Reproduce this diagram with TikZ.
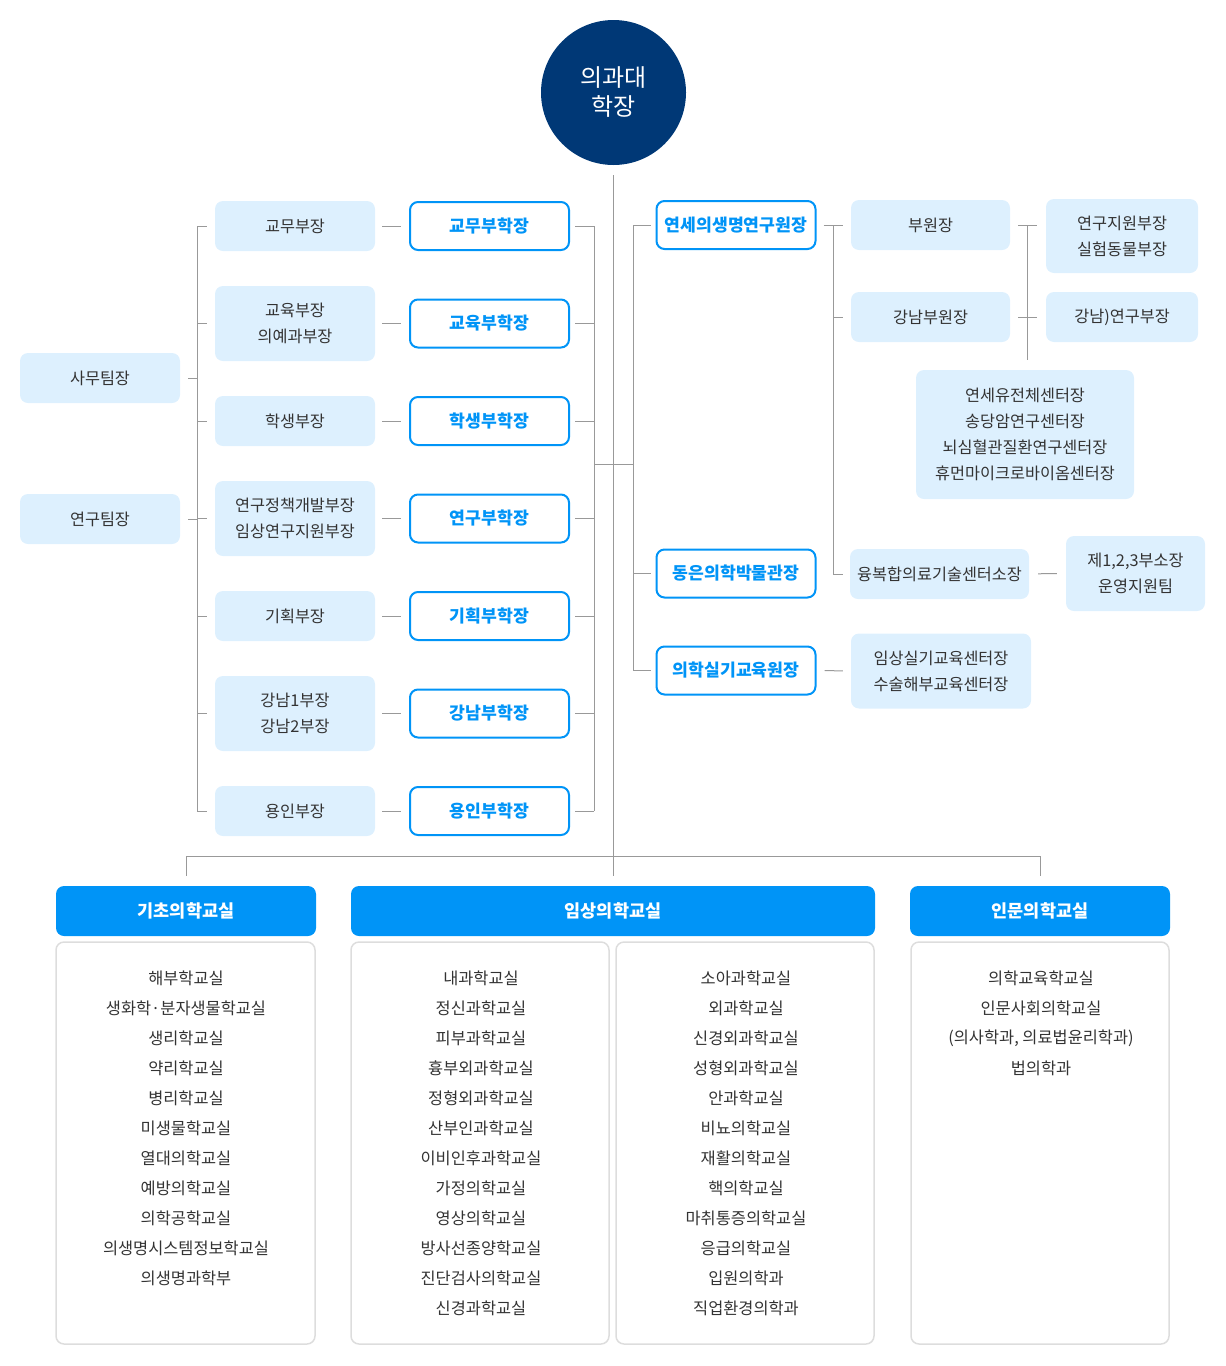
\documentclass[tikz,border=0pt]{standalone}
\usepackage{fontspec}
\setmainfont{Noto Sans CJK KR}
\definecolor{navy}{RGB}{0,56,118}
\definecolor{mainblue}{RGB}{0,148,247}
\definecolor{paleblue}{RGB}{221,240,254}
\definecolor{linegray}{RGB}{153,153,153}
\definecolor{boxgray}{RGB}{221,221,221}
\definecolor{txtgray}{RGB}{51,51,51}
\tikzset{
  conn/.style={draw=linegray,line width=1pt},
  pale/.style={fill=paleblue,rounded corners=8pt,minimum width=160pt,minimum height=50pt,inner sep=0pt,align=center,text=txtgray,font=\fontsize{16.3}{26}\selectfont},
  outl/.style={draw=mainblue,line width=2pt,fill=white,rounded corners=8pt,minimum width=159pt,minimum height=48pt,inner sep=0pt,text=mainblue,font=\fontsize{17.2}{20}\selectfont\bfseries},
  head/.style={fill=mainblue,rounded corners=8pt,minimum width=260pt,minimum height=50pt,inner sep=0pt,text=white,font=\fontsize{17.5}{20}\selectfont\bfseries},
  listbox/.style={draw=boxgray,line width=1.5pt,rounded corners=8pt},
  item/.style={text=txtgray,inner sep=0pt,font=\fontsize{16.4}{20}\selectfont}
}

\begin{document}
\begin{tikzpicture}[x=1pt,y=-1pt]
\useasboundingbox (0,0) rectangle (1226,1366);
\node[circle,fill=navy,minimum size=145pt,inner sep=0pt,align=center,text=white,font=\fontsize{24}{29}\selectfont] (dean) at (613.5,92.5) {의과대\\학장};

\coordinate (lb) at (197,0);
\coordinate (rb) at (594,0);
\coordinate (rc) at (633,0);
\coordinate (rd) at (833,0);
\coordinate (re) at (1027,0);
\coordinate (mid) at (0,464);

\foreach \i/\y/\h/\a/\b in {1/226/50/교무부장/교무부학장, 2/323.5/75/교육부장\\의예과부장/교육부학장, 3/421/50/학생부장/학생부학장, 4/518.5/75/연구정책개발부장\\임상연구지원부장/연구부학장, 5/616/50/기획부장/기획부학장, 6/713.5/75/강남1부장\\강남2부장/강남부학장, 7/811/50/용인부장/용인부학장}{
  \node[pale,minimum height=\h pt] (p\i) at (295,\y) {\a};
  \node[outl] (o\i) at (489.5,\y) {\b};
  \draw[conn,shorten <=7pt,shorten >=8pt] (p\i) -- (o\i);
  \draw[conn] ([xshift=-8pt]p\i.west) -- (p\i.west -| lb);
  \draw[conn] ([xshift=5pt]o\i.east) -- (o\i.east -| rb);
}
\node[pale] (t1) at (100,378) {사무팀장};
\node[pale] (t2) at (100,519) {연구팀장};
\draw[conn] ([xshift=8pt]t1.east) -- (t1.east -| lb);
\draw[conn] ([xshift=8pt]t2.east) -- (t2.east -| lb);
\draw[conn] (p1.west -| lb) -- (p7.west -| lb);
\draw[conn] (o1.east -| rb) -- (o7.east -| rb);
\draw[conn] (mid -| rb) -- (mid -| rc);

\node[outl] (r1) at (736,225) {연세의생명연구원장};
\node[outl] (r2) at (736,573.5) {동은의학박물관장};
\node[outl] (r3) at (736,670.5) {의학실기교육원장};
\draw[conn] (r1.west -| rc) -- (r3.west -| rc);
\foreach \i in {1,2,3}
  \draw[conn] (r\i.west -| rc) -- ([xshift=-5pt]r\i.west);

\node[pale,minimum width=159pt] (v1) at (930.5,225) {부원장};
\node[pale,minimum width=159pt] (v2) at (930.5,317) {강남부원장};
\node[pale,minimum width=152pt,minimum height=74pt] (v3) at (1122,236) {연구지원부장\\실험동물부장};
\node[pale,minimum width=152pt] (v4) at (1122,317) {강남)연구부장};
\node[pale,minimum width=218pt,minimum height=129pt] (v6) at (1025,434.5) {연세유전체센터장\\송당암연구센터장\\뇌심혈관질환연구센터장\\휴먼마이크로바이옴센터장};
\node[pale,minimum width=179pt] (v5) at (939.5,574) {융복합의료기술센터소장};
\node[pale,minimum width=139pt,minimum height=75pt] (v7) at (1135.5,573.5) {제1,2,3부소장\\운영지원팀};
\node[pale,minimum width=180pt,minimum height=75pt] (v8) at (941,671) {임상실기교육센터장\\수술해부교육센터장};

\draw[conn,shorten <=7pt,shorten >=8pt] (r1) -- (v1);
\draw[conn] (r1.east -| rd) |- ([xshift=-7pt]v5.west);
\draw[conn] (v2.west -| rd) -- ([xshift=-8pt]v2.west);
\draw[conn] (v1.east -| re) -- ([yshift=10pt]v6.north -| re);
\draw[conn,shorten <=8pt,shorten >=9pt] (v1.east) -- (v1.east -| v3.west);
\draw[conn,shorten <=8pt,shorten >=9pt] (v2) -- (v4);
\draw[conn,shorten <=9pt,shorten >=9pt] (v5) -- (v7);
\draw[conn,shorten <=8pt,shorten >=8pt] (r3) -- (v8);

\node[head] (hd1) at (186,911) {기초의학교실};
\node[head,minimum width=524pt] (hd2) at (613,911) {임상의학교실};
\node[head] (hd3) at (1040,911) {인문의학교실};
\draw[conn] ([yshift=-10pt]dean.south) -- ([yshift=10pt]dean.south |- hd2.north);
\draw[conn] ([yshift=10pt]hd1.north) -- ++(0,-19) -| ([yshift=10pt]hd3.north);

\draw[listbox] (56,942) rectangle (315,1344);
\draw[listbox] (351,942) rectangle (609,1344);
\draw[listbox] (616,942) rectangle (874,1344);
\draw[listbox] (911,942) rectangle (1169,1344);
\foreach \t [count=\i from 0] in {해부학교실,생화학·분자생물학교실,생리학교실,약리학교실,병리학교실,미생물학교실,열대의학교실,예방의학교실,의학공학교실,의생명시스템정보학교실,의생명과학부}
  \node[item] (a\i) at (186,978+30*\i) {\t};
\foreach \t [count=\i from 0] in {내과학교실,정신과학교실,피부과학교실,흉부외과학교실,정형외과학교실,산부인과학교실,이비인후과학교실,가정의학교실,영상의학교실,방사선종양학교실,진단검사의학교실,신경과학교실}
  \node[item] (b\i) at (481,978+30*\i) {\t};
\foreach \t [count=\i from 0] in {소아과학교실,외과학교실,신경외과학교실,성형외과학교실,안과학교실,비뇨의학교실,재활의학교실,핵의학교실,마취통증의학교실,응급의학교실,입원의학과,직업환경의학과}
  \node[item] (c\i) at (746,978+30*\i) {\t};
\foreach \t [count=\i from 0] in {의학교육학교실,인문사회의학교실,{(의사학과, 의료법윤리학과)},법의학과}
  \node[item] (d\i) at (1041,978+30*\i) {\t};
\end{tikzpicture}
\end{document}
